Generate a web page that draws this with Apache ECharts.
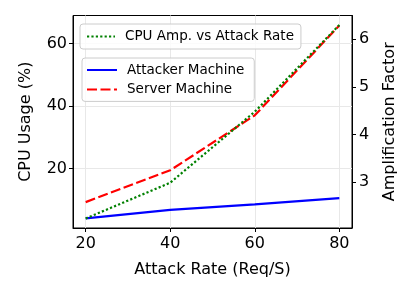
<!DOCTYPE html>
<html>
<head>
<meta charset="utf-8">
<script src="https://cdn.jsdelivr.net/npm/echarts@6/dist/echarts.min.js"></script>
<style>
html,body{margin:0;padding:0;background:#fff;}
#c{width:415px;height:297px;}
</style>
</head>
<body>
<div id="c"></div>
<script>
const attackRates = [20, 40, 60, 80];
const attackerCpu = [4.0, 6.7, 8.5, 10.5];
const serverCpu = [9.2, 19.4, 37.0, 65.8];
const amplification = [2.24, 2.99, 4.48, 6.30];
const xTicks = [20, 40, 60, 80];
const leftTicks = [20, 40, 60];
const rightTicks = [3, 4, 5, 6];

const FONT = 'DejaVu Sans';
const pair = (xs, ys) => xs.map((x, i) => [x, ys[i]]);
const noSymbol = {color: 'rgba(0,0,0,0)', borderColor: 'rgba(0,0,0,0)', borderWidth: 0};

const chart = echarts.init(document.getElementById('c'), null, {renderer: 'canvas'});
chart.setOption({
  animation: false,
  backgroundColor: '#fff',
  textStyle: {fontFamily: FONT, color: '#000'},
  grid: {left: 73, right: 63, top: 15.5, bottom: 69, show: true, borderColor: '#000', borderWidth: 1, containLabel: false},
  legend: [
    {
      data: ['CPU Amp. vs Attack Rate'],
      left: 80, top: 24, orient: 'vertical',
      padding: [5.5, 7, 5.5, 6],
      itemWidth: 28, itemHeight: 14,
      itemStyle: noSymbol,
      backgroundColor: 'rgba(255,255,255,0.8)', borderColor: '#cccccc', borderWidth: 1, borderRadius: 3,
      textStyle: {fontFamily: FONT, fontSize: 13.5, color: '#000', padding: [0, 0, 0, 5]}
    },
    {
      data: ['Attacker Machine', 'Server Machine'],
      left: 82, top: 58, orient: 'vertical',
      padding: [5, 10, 5, 4],
      itemGap: 5.4,
      itemWidth: 30, itemHeight: 14,
      itemStyle: noSymbol,
      backgroundColor: 'rgba(255,255,255,0.8)', borderColor: '#cccccc', borderWidth: 1, borderRadius: 3,
      textStyle: {fontFamily: FONT, fontSize: 13.5, color: '#000', padding: [0, 0, 0, 5]}
    }
  ],
  xAxis: {
    type: 'value', min: 17, max: 83,
    name: 'Attack Rate (Req/S)', nameLocation: 'middle', nameGap: 34,
    nameTextStyle: {fontFamily: FONT, fontSize: 16, color: '#000'},
    axisLine: {lineStyle: {color: '#000', width: 1}},
    axisTick: {show: true, inside: false, length: 4, lineStyle: {color: '#000'}, customValues: xTicks},
    axisLabel: {fontFamily: FONT, fontSize: 16, color: '#000', margin: 8, customValues: xTicks},
    splitLine: {show: true, lineStyle: {color: '#e8e8e8', width: 1}, customValues: xTicks}
  },
  yAxis: [
    {
      type: 'value', min: 0.9, max: 69, position: 'left',
      name: 'CPU Usage (%)', nameLocation: 'middle', nameGap: 39, nameRotate: 90,
      nameTextStyle: {fontFamily: FONT, fontSize: 16, color: '#000'},
      axisLine: {show: true, lineStyle: {color: '#000', width: 1}},
      axisTick: {show: true, length: 4, lineStyle: {color: '#000'}, customValues: leftTicks},
      axisLabel: {fontFamily: FONT, fontSize: 16, color: '#000', margin: 6, customValues: leftTicks},
      splitLine: {show: true, lineStyle: {color: '#e8e8e8', width: 1}, customValues: leftTicks}
    },
    {
      type: 'value', min: 2.04, max: 6.5, position: 'right',
      name: 'Amplification Factor', nameLocation: 'middle', nameGap: 30, nameRotate: 90,
      nameTextStyle: {fontFamily: FONT, fontSize: 16, color: '#000'},
      axisLine: {show: true, lineStyle: {color: '#000', width: 1}},
      axisTick: {show: true, length: 4, lineStyle: {color: '#000'}, customValues: rightTicks},
      axisLabel: {fontFamily: FONT, fontSize: 16, color: '#000', margin: 7, customValues: rightTicks},
      splitLine: {show: false}
    }
  ],
  series: [
    {
      name: 'Attacker Machine', type: 'line', yAxisIndex: 0, symbol: 'none',
      data: pair(attackRates, attackerCpu),
      lineStyle: {color: '#0000ff', width: 2.2, type: 'solid'},
      itemStyle: {color: '#0000ff'}, z: 3
    },
    {
      name: 'Server Machine', type: 'line', yAxisIndex: 0, symbol: 'none',
      data: pair(attackRates, serverCpu),
      lineStyle: {color: '#ff0000', width: 2.2, type: [10, 3.5]},
      itemStyle: {color: '#ff0000'}, z: 3
    },
    {
      name: 'CPU Amp. vs Attack Rate', type: 'line', yAxisIndex: 1, symbol: 'none',
      data: pair(attackRates, amplification),
      lineStyle: {color: '#008000', width: 2.2, type: [2.2, 2.2]},
      itemStyle: {color: '#008000'}, z: 4
    }
  ]
});
</script>
</body>
</html>
